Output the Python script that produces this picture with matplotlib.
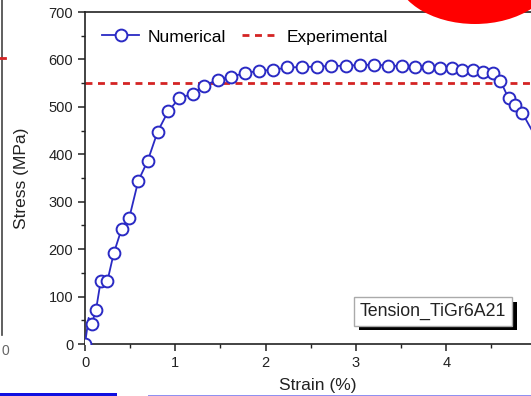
import matplotlib
matplotlib.use('Agg')
import matplotlib.pyplot as plt
from matplotlib.patches import Ellipse, Rectangle
from matplotlib.lines import Line2D
from matplotlib.ticker import MultipleLocator
import matplotlib.patheffects as pe

plt.rcParams['font.family'] = ['Liberation Sans', 'DejaVu Sans']

# Numerical stress-strain curve
strain = [0, 0.04, 0.074, 0.122, 0.174, 0.247, 0.318, 0.406, 0.49, 0.59,
          0.694, 0.805, 0.922, 1.044, 1.193, 1.321, 1.47, 1.62, 1.77, 1.925,
          2.085, 2.24, 2.405, 2.566, 2.725, 2.89, 3.045, 3.20, 3.36, 3.507,
          3.654, 3.80, 3.93, 4.06, 4.18, 4.30, 4.41, 4.515, 4.60, 4.69,
          4.76, 4.84, 4.98]
stress = [0, 55, 42, 72, 133, 132, 191, 243, 266, 344,
          386, 448, 491, 518, 528, 545, 557, 564, 571, 576,
          578, 583, 584, 585, 586, 587, 588, 589, 587, 586,
          585, 583, 581, 581, 578, 577, 574, 571, 555, 518,
          504, 488, 440]
# Experimental ultimate strength
exp_stress = 550

blue = '#2a2ac4'
red = '#d42424'

W, H = 531, 396
fig = plt.figure(figsize=(W / 100, H / 100), dpi=100)
ax = fig.add_axes([85 / W, 52 / H, 1 - 85 / W, 332 / H])

# no marker on the spike near the origin nor on the point past the edge
marks = [i for i in range(len(strain)) if i not in (1, len(strain) - 1)]
ax.plot(strain, stress, color=blue, lw=1.3, marker='o', ms=8.5,
        mfc='white', mec=blue, mew=1.4, markevery=marks,
        label='Numerical', zorder=3)
ax.axhline(exp_stress, color=red, lw=2, ls=(0, (2.5, 2)),
           label='Experimental', zorder=2)

ax.set_xlim(0, (W - 85) / 90.3)
ax.set_ylim(0, 700)
ax.xaxis.set_major_locator(MultipleLocator(1))
ax.xaxis.set_minor_locator(MultipleLocator(0.5))
ax.yaxis.set_major_locator(MultipleLocator(100))
ax.yaxis.set_minor_locator(MultipleLocator(50))
ax.tick_params(which='major', direction='out', length=5, width=1.1,
               labelsize=10.5, colors='#222222')
ax.tick_params(which='minor', direction='out', length=3, width=1.0,
               colors='#222222')
ax.spines['right'].set_visible(False)
for s in ['left', 'bottom', 'top']:
    ax.spines[s].set_linewidth(1.2)
    ax.spines[s].set_color('#222222')

ax.set_xlabel('Strain (%)', fontsize=12.5, color='#222222')
ax.set_ylabel('Stress (MPa)', fontsize=12.5, color='#222222')
ax.xaxis.set_label_coords((318 - 85) / 446, -34 / 332)
ax.yaxis.set_label_coords(-56 / 446, 0.5)

ax.legend(loc='upper left', ncol=2, frameon=False, fontsize=12.5,
          handlelength=2.1, handletextpad=0.5, columnspacing=0.9,
          borderaxespad=0.6)

# label box with a dark drop shadow
t = ax.text(0.78, 0.099, 'Tension_TiGr6A21', transform=ax.transAxes,
            color='#222222', ha='center', va='center', fontsize=12.8,
            bbox=dict(boxstyle='square,pad=0.33', fc='white', ec='#aaaaaa'),
            zorder=6)
t.get_bbox_patch().set_path_effects([
    pe.SimplePatchShadow(offset=(3.5, -3.5), shadow_rgbFace='black',
                         alpha=1.0),
    pe.Normal()])

# screenshot leftovers around the chart
fig.patches.append(Ellipse((475, H + 30), 162, 108, transform=None,
                           fc='#ff0000', ec='none', zorder=10))
fig.patches.append(Rectangle((0, 0), 117, 3.5, transform=None,
                             fc='#1010e0', ec='none'))
fig.patches.append(Rectangle((148, 0), W - 148, 1.5, transform=None,
                             fc='#9090f0', ec='none'))
fig.lines.append(Line2D([2, 2], [H - 335, H], transform=None,
                        color='#444444', lw=1.2))
fig.lines.append(Line2D([0, 5], [H - 58, H - 58], transform=None,
                        color=red, lw=2))
fig.text(1 / W, (H - 351) / H, '0', fontsize=10, color='#666666',
         va='center')

fig.savefig('out.png', dpi=100)
